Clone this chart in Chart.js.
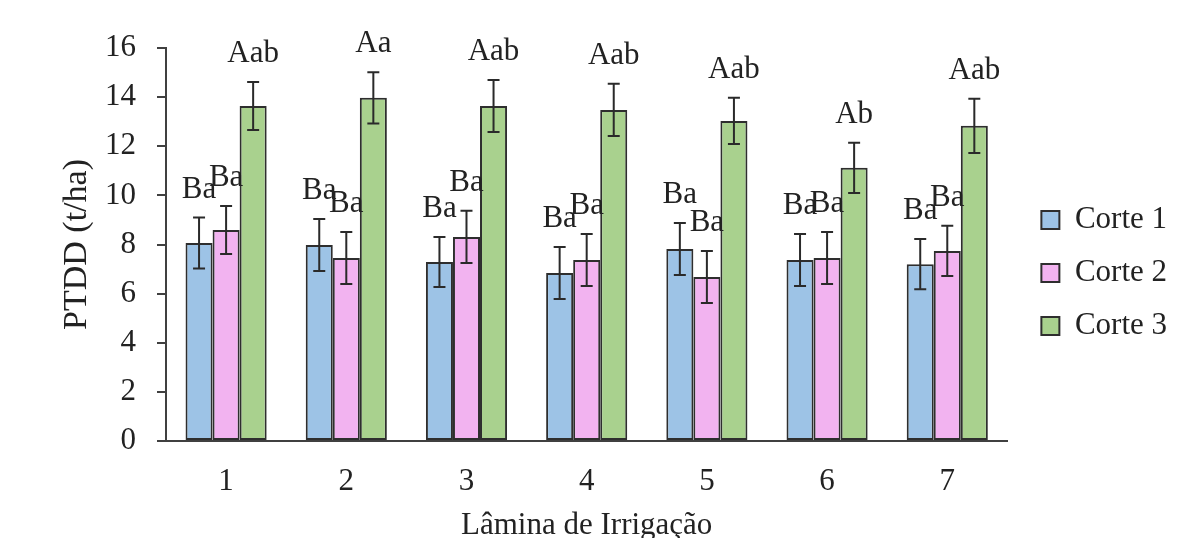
<!DOCTYPE html>
<html>
<head>
<meta charset="utf-8">
<script src="https://cdn.jsdelivr.net/npm/chart.js@4/dist/chart.umd.min.js"></script>
<style>
  html, body { margin: 0; padding: 0; background: #fff; }
  #wrap { width: 1177px; height: 538px; }
</style>
</head>
<body>
<div id="wrap"><canvas id="ptdd-chart"></canvas></div>
<script>
// categories (lamina de irrigacao)
var laminas = ['1', '2', '3', '4', '5', '6', '7'];
var seriesNames = ['Corte 1', 'Corte 2', 'Corte 3'];

// PTDD (t/ha)
var corte1 = [8.06, 7.98, 7.29, 6.84, 7.82, 7.37, 7.20];
var corte2 = [8.59, 7.45, 8.31, 7.37, 6.68, 7.45, 7.74];
var corte3 = [13.64, 13.97, 13.64, 13.48, 13.03, 11.12, 12.83];

// error bar half-lengths
var erro1 = [1.04, 1.06, 1.02, 1.06, 1.06, 1.06, 1.02];
var erro2 = [0.98, 1.06, 1.06, 1.06, 1.06, 1.06, 1.02];
var erro3 = [0.98, 1.04, 1.06, 1.06, 0.94, 1.02, 1.10];

// significance letters
var letras1 = ['Ba', 'Ba', 'Ba', 'Ba', 'Ba', 'Ba', 'Ba'];
var letras2 = ['Ba', 'Ba', 'Ba', 'Ba', 'Ba', 'Ba', 'Ba'];
var letras3 = ['Aab', 'Aa', 'Aab', 'Aab', 'Aab', 'Ab', 'Aab'];

var yTicks = [0, 2, 4, 6, 8, 10, 12, 14, 16];

var serif = 'Liberation Serif, Times New Roman, serif';
var ink = '#222';
var axisColor = '#404040';

var errorBars = {
  id: 'errorBars',
  afterDatasetsDraw: function(chart) {
    var ctx = chart.ctx;
    var yScale = chart.scales.y;
    ctx.save();
    chart.data.datasets.forEach(function(ds, i) {
      var meta = chart.getDatasetMeta(i);
      meta.data.forEach(function(bar, j) {
        var v = ds.data[j], e = ds.errors[j];
        var top = yScale.getPixelForValue(v + e);
        var bot = yScale.getPixelForValue(v - e);
        ctx.strokeStyle = '#2a2a2a';
        ctx.lineWidth = 2;
        ctx.beginPath();
        ctx.moveTo(bar.x, top); ctx.lineTo(bar.x, bot);
        ctx.moveTo(bar.x - 6, top); ctx.lineTo(bar.x + 6, top);
        ctx.moveTo(bar.x - 6, bot); ctx.lineTo(bar.x + 6, bot);
        ctx.stroke();
        // letters above the error bar
        ctx.fillStyle = ink;
        ctx.font = '31px ' + serif;
        ctx.textAlign = 'center';
        ctx.textBaseline = 'middle';
        ctx.fillText(ds.letters[j], bar.x, top - 28);
      });
    });
    ctx.restore();
  }
};

var ctx = document.getElementById('ptdd-chart').getContext('2d');
var chart = new Chart(ctx, {
  type: 'bar',
  data: {
    labels: laminas,
    datasets: [
      { label: seriesNames[0], data: corte1, errors: erro1, letters: letras1, backgroundColor: '#9DC3E6' },
      { label: seriesNames[1], data: corte2, errors: erro2, letters: letras2, backgroundColor: '#F2B3F0' },
      { label: seriesNames[2], data: corte3, errors: erro3, letters: letras3, backgroundColor: '#A9D18E' }
    ].map(function(d) {
      d.borderColor = '#2e2e2e';
      d.borderWidth = 2;
      d.borderSkipped = false;
      d.categoryPercentage = 0.675;
      d.barPercentage = 1.0;
      return d;
    })
  },
  options: {
    responsive: true,
    maintainAspectRatio: false,
    animation: false,
    layout: { padding: { top: 8, right: 0, bottom: 0, left: 0 } },
    plugins: {
      tooltip: { enabled: false },
      // blank title only reserves space above the plot
      title: {
        display: true,
        text: ' ',
        font: { size: 10, lineHeight: 1 },
        padding: { top: 30, bottom: 0 }
      },
      legend: {
        position: 'right',
        labels: {
          boxWidth: 18,
          boxHeight: 18,
          padding: 22,
          color: ink,
          font: { family: serif, size: 31 }
        }
      }
    },
    scales: {
      x: {
        grid: { display: false, drawTicks: false },
        border: { display: true, color: axisColor, width: 2 },
        ticks: { color: ink, padding: 22, font: { family: serif, size: 31 } },
        title: {
          display: true,
          text: 'Lâmina de Irrigação',
          color: ink,
          font: { family: serif, size: 31 },
          padding: { top: 0, bottom: -6 }
        },
        afterFit: function(s) { s.height = 97; }
      },
      y: {
        min: 0,
        max: 16,
        afterBuildTicks: function(s) { s.ticks = yTicks.map(function(v) { return { value: v }; }); },
        grid: { drawOnChartArea: false, drawTicks: true, tickLength: 9, color: axisColor, lineWidth: 2 },
        border: { display: true, color: axisColor, width: 2 },
        ticks: { color: ink, padding: 21, font: { family: serif, size: 31 } },
        title: {
          display: true,
          text: 'PTDD (t/ha)',
          color: ink,
          font: { family: serif, size: 34 },
          padding: { top: 57, bottom: 0 }
        },
        afterFit: function(s) { s.width = 166; }
      },
      gap: {
        // empty spacer between plot and legend
        position: 'right',
        display: true,
        min: 0,
        max: 1,
        grid: { display: false, drawTicks: false },
        border: { display: false },
        ticks: { display: false },
        afterFit: function(s) { s.width = 12; }
      }
    }
  },
  plugins: [errorBars]
});
</script>
</body>
</html>
